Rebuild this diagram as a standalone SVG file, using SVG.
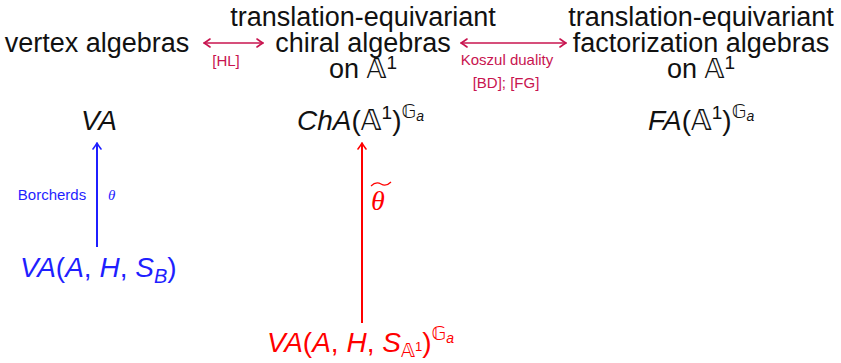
<svg xmlns="http://www.w3.org/2000/svg" width="841" height="363" viewBox="0 0 841 363">
<defs>
<style>
.h{font-family:"Liberation Sans","DejaVu Sans",sans-serif;font-size:27px;fill:#111;text-anchor:middle}
.m{font-family:"Liberation Sans","DejaVu Sans",sans-serif;font-size:28px;font-style:italic}
.bb{font-family:"DejaVu Sans",sans-serif;font-style:normal}
.up{font-style:normal}
.lab{font-family:"Liberation Sans","DejaVu Sans",sans-serif;font-size:15px;text-anchor:middle}
.crim{fill:#c8144f}
.blue{fill:#1f1fff}
.red{fill:#ff0000}
.blk{fill:#111}
.gr{font-family:"Liberation Serif","DejaVu Serif",serif;font-style:italic}
</style>
<marker id="ac" viewBox="-8 -5 9 10" markerWidth="9" markerHeight="10" refX="0" refY="0" orient="auto-start-reverse" markerUnits="userSpaceOnUse">
<path d="M-6,-4 Q-2,-1 0,0 Q-2,1 -6,4" fill="none" stroke="#c8144f" stroke-width="1.6" stroke-linecap="round"/>
</marker>
<marker id="ab" viewBox="-8 -5 9 10" markerWidth="9" markerHeight="10" refX="0" refY="0" orient="auto" markerUnits="userSpaceOnUse">
<path d="M-6,-4 Q-2,-1 0,0 Q-2,1 -6,4" fill="none" stroke="#1f1fff" stroke-width="1.6" stroke-linecap="round"/>
</marker>
<marker id="ar" viewBox="-8 -5 9 10" markerWidth="9" markerHeight="10" refX="0" refY="0" orient="auto" markerUnits="userSpaceOnUse">
<path d="M-6,-4 Q-2,-1 0,0 Q-2,1 -6,4" fill="none" stroke="#ff0000" stroke-width="1.6" stroke-linecap="round"/>
</marker>
</defs>
<rect width="841" height="363" fill="#fff"/>

<g id="vertex-algebras">
<text class="h" x="97" y="52">vertex algebras</text>
</g>
<g id="chiral-algebras">
<text class="h" x="363" y="26">translation-equivariant</text>
<text class="h" x="363" y="52">chiral algebras</text>
<text class="h" x="363" y="78">on <tspan class="bb">𝔸</tspan><tspan font-size="19" dy="-9">1</tspan></text>
</g>
<g id="factorization-algebras">
<text class="h" x="701" y="26">translation-equivariant</text>
<text class="h" x="701" y="52">factorization algebras</text>
<text class="h" x="701" y="78">on <tspan class="bb">𝔸</tspan><tspan font-size="19" dy="-9">1</tspan></text>
</g>

<g id="VA">
<text class="m blk" x="99" y="130" text-anchor="middle">VA</text>
</g>
<g id="ChA">
<text class="m blk" x="297" y="130">ChA<tspan class="up">(</tspan><tspan class="bb">𝔸</tspan><tspan class="up" font-size="19" dy="-11">1</tspan><tspan class="up" dy="11">)</tspan><tspan class="bb" font-size="19" dy="-12">𝔾</tspan><tspan font-size="14" dy="3">a</tspan></text>
</g>
<g id="FA">
<text class="m blk" x="648" y="130">FA<tspan class="up">(</tspan><tspan class="bb">𝔸</tspan><tspan class="up" font-size="19" dy="-11">1</tspan><tspan class="up" dy="11">)</tspan><tspan class="bb" font-size="19" dy="-12">𝔾</tspan><tspan font-size="14" dy="3">a</tspan></text>
</g>
<g id="VA-AHSB">
<text class="m blue" x="20" y="277">VA<tspan class="up">(</tspan>A<tspan class="up">, </tspan>H<tspan class="up">, </tspan>S<tspan font-size="20" dy="6">B</tspan><tspan class="up" dy="-6">)</tspan></text>
</g>
<g id="VA-AHSA1">
<text class="m red" x="267" y="352">VA<tspan class="up">(</tspan>A<tspan class="up">, </tspan>H<tspan class="up">, </tspan>S<tspan class="bb" font-size="19" dy="5">𝔸</tspan><tspan class="up" font-size="13" dy="-6">1</tspan><tspan class="up" dy="1">)</tspan><tspan class="bb" font-size="19" dy="-12">𝔾</tspan><tspan font-size="14" dy="3">a</tspan></text>
</g>

<g id="connectors">
<line x1="204" y1="43" x2="263" y2="43" stroke="#c8144f" stroke-width="1.6" marker-start="url(#ac)" marker-end="url(#ac)"/>
<text class="lab crim" x="226" y="66">[HL]</text>
<line x1="461" y1="43" x2="566" y2="43" stroke="#c8144f" stroke-width="1.6" marker-start="url(#ac)" marker-end="url(#ac)"/>
<text class="lab crim" x="507" y="65">Koszul duality</text>
<text class="lab crim" x="506" y="88">[BD]; [FG]</text>

<line x1="97" y1="247" x2="97" y2="143" stroke="#1f1fff" stroke-width="2" marker-end="url(#ab)"/>
<text class="lab blue" x="52" y="200">Borcherds</text>
<text class="gr blue" x="108" y="200" font-size="15">θ</text>

<line x1="362" y1="323" x2="362" y2="143" stroke="#ff0000" stroke-width="2" marker-end="url(#ar)"/>
<text class="gr red" x="371" y="210" font-size="28">θ</text>
<path d="M371,186 Q376,181 381,184 Q386,187 391,182" fill="none" stroke="#ff0000" stroke-width="1.2"/>
</g>
</svg>
